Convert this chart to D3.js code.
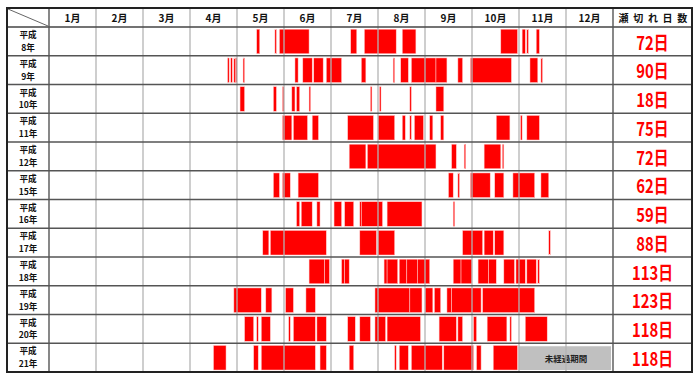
<!DOCTYPE html>
<html><head><meta charset="utf-8">
<script src="https://cdn.jsdelivr.net/npm/d3@7"></script>
<style>body{margin:0;background:#fff}</style>
</head><body><svg id="c" width="700" height="380"></svg>
<script>
const months = ["1月","2月","3月","4月","5月","6月","7月","8月","9月","10月","11月","12月"];
const years = ["8年","9年","10年","11年","12年","15年","16年","17年","18年","19年","20年","21年"];
const totals = ["72日","90日","18日","75日","72日","62日","59日","88日","113日","123日","118日","118日"];
const countHeader = "瀬 切 れ 日 数";
const notYetLabel = "未経過期間";
const notYetH21 = ["11/1","12/31"];

// dry-river periods [start, end] (inclusive), per year
const periodsH8 = [["5/14","5/15"],["5/26","5/26"],["5/29","6/16"],["7/14","7/17"],["7/23","8/12"],["8/17","8/25"],["10/20","10/30"],["11/3","11/4"],["11/6","11/6"],["11/12","11/13"]];
const periodsH9 = [["4/25","4/25"],["4/27","4/27"],["4/29","4/29"],["4/30","4/30"],["5/5","5/5"],["6/8","6/9"],["6/13","6/18"],["6/20","6/25"],["6/28","7/7"],["7/21","7/23"],["8/11","8/11"],["8/16","8/20"],["8/23","9/7"],["9/8","9/14"],["9/22","9/24"],["9/30","10/26"],["11/8","11/12"],["11/15","11/15"]];
const periodsH10 = [["5/3","5/5"],["5/25","5/26"],["5/31","5/31"],["6/6","6/7"],["6/9","6/10"],["6/17","6/17"],["7/27","7/27"],["8/2","8/2"],["8/22","8/22"],["9/8","9/12"]];
const periodsH11 = [["5/31","6/5"],["6/7","6/15"],["6/19","6/22"],["7/12","7/28"],["8/1","8/11"],["8/17","8/18"],["8/22","8/22"],["8/25","8/30"],["9/4","9/5"],["9/11","9/12"],["10/17","10/25"],["11/2","11/2"],["11/6","11/13"]];
const periodsH12 = [["7/13","7/23"],["7/25","9/7"],["9/18","9/20"],["9/26","9/26"],["10/9","10/19"],["10/21","10/21"]];
const periodsH15 = [["5/25","5/28"],["5/31","6/4"],["6/10","6/22"],["9/16","9/18"],["9/22","9/22"],["9/30","10/12"],["10/16","10/21"],["10/28","11/10"],["11/15","11/19"]];
const periodsH16 = [["6/9","6/10"],["6/12","6/18"],["6/22","6/23"],["7/3","7/7"],["7/10","7/15"],["7/20","7/20"],["7/21","8/3"],["8/7","8/29"],["9/19","9/19"]];
const periodsH17 = [["5/18","5/21"],["5/23","6/27"],["7/20","7/30"],["8/1","8/11"],["9/25","10/7"],["10/9","10/14"],["10/16","10/21"],["11/20","11/20"]];
const periodsH18 = [["6/17","6/26"],["6/27","6/29"],["7/8","7/9"],["7/10","7/12"],["8/5","8/6"],["8/7","8/13"],["8/15","8/19"],["8/20","8/26"],["8/27","9/3"],["9/19","9/23"],["9/24","9/30"],["10/5","10/11"],["10/12","10/16"],["10/22","10/28"],["10/30","11/4"],["11/6","11/11"],["11/13","11/13"]];
const periodsH19 = [["4/29","5/16"],["5/20","5/23"],["6/2","6/6"],["6/15","6/20"],["7/30","8/21"],["8/22","8/29"],["9/1","9/5"],["9/7","9/10"],["9/15","9/17"],["9/18","10/6"],["10/8","11/10"]];
const periodsH20 = [["5/6","5/11"],["5/14","5/14"],["5/17","5/22"],["6/4","6/4"],["6/7","6/20"],["6/22","6/27"],["7/12","7/16"],["7/20","7/26"],["7/30","8/5"],["8/7","8/28"],["9/10","9/20"],["9/22","9/24"],["10/2","10/3"],["10/11","10/23"],["10/26","10/26"],["11/5","11/18"]];
const periodsH21 = [["4/16","4/23"],["5/12","5/14"],["5/17","6/20"],["6/24","6/27"],["7/13","7/15"],["8/12","8/12"],["8/15","8/20"],["8/23","9/11"],["9/13","10/1"],["10/4","10/6"],["10/15","10/30"]];

const periods = [periodsH8,periodsH9,periodsH10,periodsH11,periodsH12,periodsH15,periodsH16,periodsH17,periodsH18,periodsH19,periodsH20,periodsH21];

const daysInMonth = [31,28,31,30,31,30,31,31,30,31,30,31];
const cum = [0]; daysInMonth.forEach(d => cum.push(cum[cum.length-1] + d));

const L = 7, T = 8, R = 692, B = 372;
const labelW = 49, gridR = 613, headB = 27;

const svg = d3.select("#c");
const font = "'Noto Sans CJK JP','Noto Sans',sans-serif";

const xMonth = d3.scaleBand().domain(months).range([labelW, gridR]);
const xDay = d3.scaleLinear().domain(cum).range(cum.map((c,i) => labelW + i * xMonth.bandwidth()));
const y = d3.scaleBand().domain(years).range([headB, B]);

function doy(s){ const [m,d] = s.split("/").map(Number); return cum[m-1] + d - 1; }

// gray not-yet-elapsed box
const yr21 = y("21年");
svg.append("rect")
  .attr("x", xDay(doy(notYetH21[0])) - 0.5)
  .attr("width", xDay(doy(notYetH21[1]) + 1) - xDay(doy(notYetH21[0])) - 1.5)
  .attr("y", yr21 + 3).attr("height", y.bandwidth() - 5)
  .attr("fill", "#c0c0c0");
svg.append("text")
  .attr("x", (xDay(doy(notYetH21[0])) + xDay(doy(notYetH21[1]) + 1)) / 2)
  .attr("y", yr21 + y.bandwidth()/2 + 0.5)
  .attr("text-anchor","middle").attr("dominant-baseline","central")
  .attr("font-family", font).attr("font-weight","bold").attr("font-size", 8.5)
  .attr("fill","#222").text(notYetLabel);

// bars
periods.forEach((ps, i) => {
  const yy = y(years[i]);
  svg.append("g").selectAll("rect").data(ps).join("rect")
    .attr("x", p => xDay(doy(p[0])))
    .attr("width", p => Math.max(1.2, xDay(doy(p[1]) + 1) - xDay(doy(p[0]))))
    .attr("y", yy + 2.2)
    .attr("height", y.bandwidth() - 4.2)
    .attr("fill", "#ff0000")
    .attr("stroke", "#ffd0d0").attr("stroke-width", 0.5);
});

// month grid lines
svg.append("g").selectAll("line").data(months.slice(1)).join("line")
  .attr("x1", m => xMonth(m)).attr("x2", m => xMonth(m))
  .attr("y1", T).attr("y2", B)
  .attr("stroke", "#b4b4b4").attr("stroke-width", 1.3);

// row lines
svg.append("g").selectAll("line").data(years.slice(1)).join("line")
  .attr("x1", L).attr("x2", R)
  .attr("y1", d => y(d)).attr("y2", d => y(d))
  .attr("stroke", "#555").attr("stroke-width", 1.4);
svg.append("line").attr("x1", L).attr("x2", R).attr("y1", headB).attr("y2", headB)
  .attr("stroke", "#444").attr("stroke-width", 1.5);
[labelW, gridR].forEach(x => svg.append("line").attr("x1", x).attr("x2", x).attr("y1", T).attr("y2", B)
  .attr("stroke", "#555").attr("stroke-width", 1.4));

// diagonal
svg.append("line").attr("x1", L+1).attr("y1", T+1).attr("x2", labelW-1).attr("y2", headB-1)
  .attr("stroke", "#666").attr("stroke-width", 1);

// outer border
svg.append("rect").attr("x", L).attr("y", T).attr("width", R-L).attr("height", B-T)
  .attr("fill","none").attr("stroke","#222").attr("stroke-width",2);

// month labels
svg.append("g").selectAll("text").data(months).join("text")
  .attr("x", m => xMonth(m) + xMonth.bandwidth()/2)
  .attr("y", 22).attr("text-anchor","middle")
  .attr("font-family", font).attr("font-weight","bold").attr("font-size", 10)
  .attr("fill","#111").text(m => m);

svg.append("text").attr("x", (gridR + R)/2 + 1).attr("y", 21.5).attr("text-anchor","middle")
  .attr("font-family", font).attr("font-weight","bold").attr("font-size", 10)
  .attr("letter-spacing", 1.2)
  .attr("fill","#111").text(countHeader);

// row labels
years.forEach(yl => {
  const cx = (L + labelW)/2;
  svg.append("text").attr("text-anchor","middle").attr("x", cx).attr("y", y(yl) + 11.2)
    .attr("font-family", font).attr("font-weight","bold").attr("font-size", 8.6).attr("fill","#111")
    .text("平成");
  svg.append("text").attr("text-anchor","middle").attr("x", cx).attr("y", y(yl) + 23.8)
    .attr("font-family", font).attr("font-weight","bold").attr("font-size", 8.6).attr("fill","#111")
    .text(yl);
});

// totals
years.forEach((yl, i) => {
  const cx = (gridR + R)/2, cy = y(yl) + y.bandwidth()/2;
  svg.append("text").attr("transform", `translate(${cx},${cy}) scale(0.78,1)`)
    .attr("text-anchor","middle").attr("dominant-baseline","central")
    .attr("font-family", font).attr("font-weight","bold").attr("font-size", 19).attr("fill","#ff0000")
    .text(totals[i]);
});
</script></body></html>
